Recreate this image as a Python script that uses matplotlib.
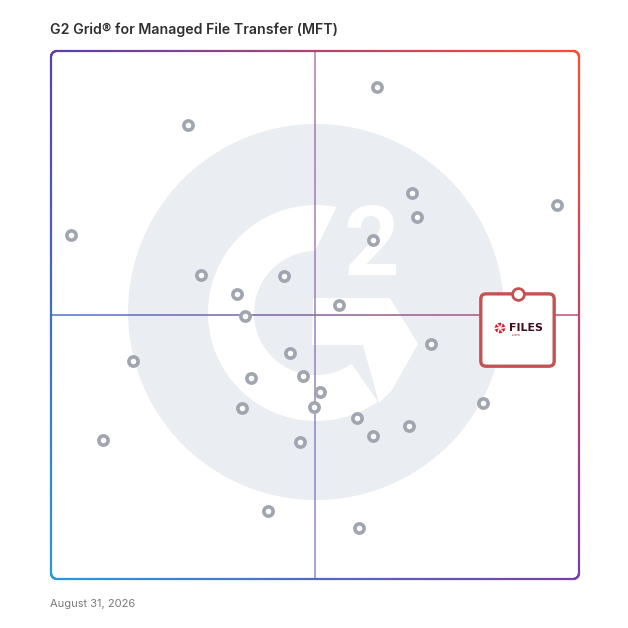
import numpy as np
import matplotlib
matplotlib.use("Agg")
import matplotlib.pyplot as plt
from matplotlib.collections import LineCollection
from matplotlib.patches import Circle, Polygon, FancyBboxPatch

# G2 grid data: satisfaction (x) vs market presence (y), 0-100
satisfaction = [61.7, 25.9, 68.4, 95.8, 69.3, 3.8, 61.0, 28.4, 44.1, 35.2,
                54.5, 36.7, 72.0, 45.3, 15.5, 47.7, 37.9, 50.9, 81.8, 36.2,
                49.8, 58.0, 67.8, 61.0, 9.8, 47.2, 41.1, 58.3]
presence = [93.2, 86.0, 73.1, 70.8, 68.6, 65.2, 64.2, 57.6, 57.4, 54.0,
            51.9, 49.8, 44.5, 42.8, 41.3, 38.4, 38.1, 35.4, 33.3, 32.4,
            32.6, 30.5, 29.0, 27.1, 26.3, 25.9, 12.9, 9.7]
highlight_name = "FILES"
highlight_xy = (88.4, 53.9)

title = "G2 Grid\u00ae for Managed File Transfer (MFT)"
date_text = "August 31, 2026"

# corner colours of the gradient frame
c_bl = np.array([0x2a, 0x99, 0xd9]) / 255
c_tl = np.array([0x5b, 0x3f, 0xb0]) / 255
c_br = np.array([0x7b, 0x3f, 0xa5]) / 255
c_tr = np.array([0xff, 0x4d, 0x2e]) / 255


def grad(u, v):
    u = np.clip(u, 0, 1)
    v = np.clip(v, 0, 1)
    bot = c_bl * (1 - u) + c_br * u
    top = c_tl * (1 - u) + c_tr * u
    return bot * (1 - v) + top * v


def px(x, y):
    # pixel of the reference -> grid units
    return ((x - 51) / 5.28, (579 - y) / 5.28)


fig = plt.figure(figsize=(6.28, 6.28), dpi=100)
ax = fig.add_axes([51 / 628, 49 / 628, 528 / 628, 528 / 628])
ax.set_xlim(0, 100)
ax.set_ylim(0, 100)
ax.axis("off")

# watermark: grey disc + white G + 2
wm_c = px(316, 313)
ax.add_patch(Circle(px(316, 312), 188 / 5.28, color="#eaedf1", zorder=0, lw=0))
r_in, r_out = 62 / 5.28, 108 / 5.28
a_out = np.linspace(np.radians(79), np.radians(305), 120)
a_in = np.linspace(np.radians(305), np.radians(91), 120)
ring = np.vstack([
    np.column_stack([wm_c[0] + r_out * np.cos(a_out), wm_c[1] + r_out * np.sin(a_out)]),
    np.column_stack([wm_c[0] + r_in * np.cos(a_in), wm_c[1] + r_in * np.sin(a_in)]),
])
ax.add_patch(Polygon(ring, closed=True, color="white", lw=0, zorder=0.5))
chev = [px(313, 298), px(390, 298), px(418, 344), px(392, 390), px(379, 403),
        px(363, 345), px(312, 345)]
ax.add_patch(Polygon(chev, closed=True, color="white", lw=0, zorder=0.5))
tx, ty = px(372, 249)
ax.text(tx, ty, "2", color="white", fontsize=70, fontweight="bold",
        family="Roboto", ha="center", va="center", zorder=0.6)

# quadrant lines
n = 300
t = np.linspace(0, 100, n)
seg_h = np.array([[[t[i], 50], [t[i + 1], 50]] for i in range(n - 1)])
cols_h = [grad(t[i] / 100, 0.5) for i in range(n - 1)]
ax.add_collection(LineCollection(seg_h, colors=cols_h, linewidths=1.1, alpha=0.95, zorder=1))
seg_v = np.array([[[50, t[i]], [50, t[i + 1]]] for i in range(n - 1)])
cols_v = [grad(0.5, t[i] / 100) * 0.6 + np.array([0.55, 0.45, 0.8]) * 0.4
          for i in range(n - 1)]
ax.add_collection(LineCollection(seg_v, colors=cols_v, linewidths=1.1, alpha=0.8, zorder=1))

# rounded gradient frame
r = 6 / 5.28
pts = []
for cx, cy, a0 in [(100 - r, 100 - r, 0), (r, 100 - r, 90), (r, r, 180), (100 - r, r, 270)]:
    aa = np.radians(np.linspace(a0, a0 + 90, 15))
    pts.append(np.column_stack([cx + r * np.cos(aa), cy + r * np.sin(aa)]))
pts = np.vstack(pts + [pts[0][:1]])
dense = []
for i in range(len(pts) - 1):
    k = max(2, int(np.hypot(*(pts[i + 1] - pts[i])) * 2))
    seg = np.linspace(pts[i], pts[i + 1], k)
    dense.append(seg[:-1])
dense = np.vstack(dense + [pts[-1:]])
segs = np.stack([dense[:-1], dense[1:]], axis=1)
mids = segs.mean(axis=1)
cols = [grad(m[0] / 100, m[1] / 100) for m in mids]
lc = LineCollection(segs, colors=cols, linewidths=1.6, zorder=2, capstyle="round")
lc.set_clip_on(False)
ax.add_collection(lc)

# products
ax.scatter(satisfaction, presence, s=44, facecolor="white", edgecolor="#a0a5b0",
           linewidths=2.6, zorder=3, clip_on=False)

# highlighted product card
hx, hy = highlight_xy
card = FancyBboxPatch((hx - 7.0, hy - 13.6), 13.9, 13.7,
                      boxstyle="round,pad=0,rounding_size=1.0",
                      facecolor="white", edgecolor="#c45252", lw=2.4, zorder=4)
ax.add_patch(card)
ax.scatter([hx], [hy], s=72, facecolor="white", edgecolor="#c45252",
           linewidths=2.0, zorder=5)

# small pinwheel icon + logo text
ix, iy = px(500, 328)
for k in range(6):
    a = np.radians(k * 60 + 15)
    tri = [(ix + 0.25 * np.cos(a), iy + 0.25 * np.sin(a)),
           (ix + 1.05 * np.cos(a), iy + 1.05 * np.sin(a)),
           (ix + 1.05 * np.cos(a + 0.75), iy + 1.05 * np.sin(a + 0.75))]
    ax.add_patch(Polygon(tri, closed=True, color="#d3202f", lw=0, zorder=6))
lx, ly = px(508.5, 328)
ax.text(lx, ly, highlight_name, fontsize=7.9, fontweight="heavy", color="#3e0e1c",
        ha="left", va="center", zorder=6)
cx2, cy2 = px(512, 334.5)
ax.text(cx2, cy2, ".com", fontsize=2.6, color="#d3202f", ha="left", va="center", zorder=6)

# title / footer
fig.text(50 / 628, 1 - 30 / 628, title, fontsize=10.2, fontweight="semibold",
         color="#2f2f2f", family="Inter", ha="left", va="center")
fig.text(50 / 628, 1 - 604 / 628, date_text, fontsize=8, color="#7a7a7a",
         family="Inter", ha="left", va="center")

fig.savefig("out.png", dpi=100, facecolor="white")
